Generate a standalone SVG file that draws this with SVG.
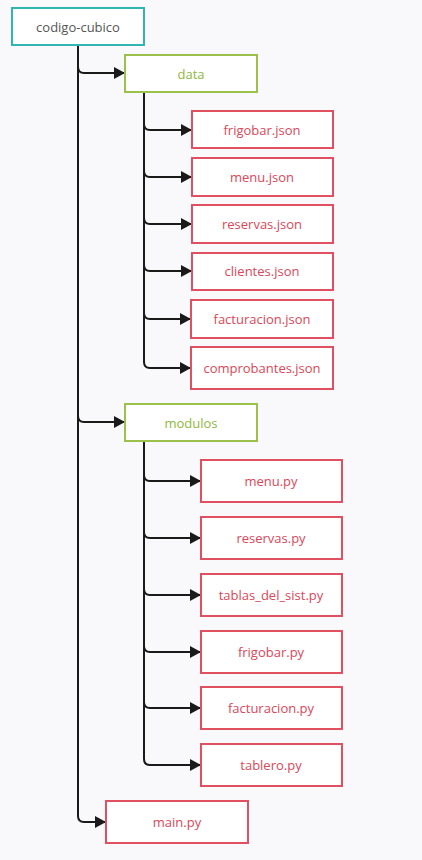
<svg xmlns="http://www.w3.org/2000/svg" width="422" height="860" viewBox="0 0 422 860">
<defs>
<marker id="ah" markerWidth="11" markerHeight="12" refX="11" refY="6" orient="auto" markerUnits="userSpaceOnUse">
<path d="M0,0 L11,6 L0,12 Z" fill="#1a1a1a"/>
</marker>
<style>
rect{fill:#ffffff;stroke-width:2}
.root rect{stroke:#30b5b3}
.root text{fill:#555555}
.dir rect{stroke:#9bc14a}
.dir text{fill:#8fb83d}
.file rect{stroke:#e05060}
.file text{fill:#d9475a}
text{font-family:"Open Sans","Noto Sans",sans-serif;font-size:13px;text-anchor:middle;dominant-baseline:central}
.c path{fill:none;stroke:#1a1a1a;stroke-width:2;marker-end:url(#ah)}
</style>
</defs>
<rect x="0" y="0" width="422" height="860" style="stroke:none;fill:#f9f9fb"/>
<g class="c" id="connectors">
<path d="M78,44 V67 Q78,73 84,73 H125"/>
<path d="M78,44 V416 Q78,422 84,422 H125"/>
<path d="M78,44 V816 Q78,822 84,822 H106"/>
<path d="M144,92 V124 Q144,130 150,130 H192"/>
<path d="M144,92 V171 Q144,177 150,177 H192"/>
<path d="M144,92 V218 Q144,224 150,224 H192"/>
<path d="M144,92 V265 Q144,271 150,271 H192"/>
<path d="M144,92 V313 Q144,319 150,319 H191"/>
<path d="M144,92 V362 Q144,368 150,368 H191"/>
<path d="M144,441 V475 Q144,481 150,481 H201"/>
<path d="M144,441 V532 Q144,538 150,538 H201"/>
<path d="M144,441 V589 Q144,595 150,595 H201"/>
<path d="M144,441 V646 Q144,652 150,652 H201"/>
<path d="M144,441 V702 Q144,708 150,708 H201"/>
<path d="M144,441 V759 Q144,765 150,765 H201"/>
</g>
<g id="codigo-cubico" class="root"><rect x="12" y="8" width="132" height="37"/><text x="78" y="27">codigo-cubico</text></g>
<g id="data" class="dir"><rect x="125" y="55" width="132" height="37"/><text x="191" y="74">data</text></g>
<g id="frigobar-json" class="file"><rect x="192" y="111" width="141" height="37"/><text x="262" y="130">frigobar.json</text></g>
<g id="menu-json" class="file"><rect x="192" y="158" width="141" height="38"/><text x="262" y="177">menu.json</text></g>
<g id="reservas-json" class="file"><rect x="192" y="205" width="141" height="38"/><text x="262" y="224">reservas.json</text></g>
<g id="clientes-json" class="file"><rect x="192" y="253" width="141" height="37"/><text x="262" y="271">clientes.json</text></g>
<g id="facturacion-json" class="file"><rect x="191" y="300" width="142" height="38"/><text x="262" y="319">facturacion.json</text></g>
<g id="comprobantes-json" class="file"><rect x="191" y="347" width="142" height="42"/><text x="262" y="368">comprobantes.json</text></g>
<g id="modulos" class="dir"><rect x="125" y="404" width="132" height="37"/><text x="191" y="423">modulos</text></g>
<g id="menu-py" class="file"><rect x="201" y="460" width="141" height="42"/><text x="271" y="481">menu.py</text></g>
<g id="reservas-py" class="file"><rect x="201" y="517" width="141" height="42"/><text x="271" y="538">reservas.py</text></g>
<g id="tablas-py" class="file"><rect x="201" y="574" width="141" height="42"/><text x="271" y="595">tablas_del_sist.py</text></g>
<g id="frigobar-py" class="file"><rect x="201" y="631" width="141" height="42"/><text x="271" y="652">frigobar.py</text></g>
<g id="facturacion-py" class="file"><rect x="201" y="687" width="141" height="42"/><text x="271" y="708">facturacion.py</text></g>
<g id="tablero-py" class="file"><rect x="201" y="744" width="141" height="42"/><text x="271" y="765">tablero.py</text></g>
<g id="main-py" class="file"><rect x="106" y="801" width="142" height="42"/><text x="177" y="822">main.py</text></g>
</svg>
